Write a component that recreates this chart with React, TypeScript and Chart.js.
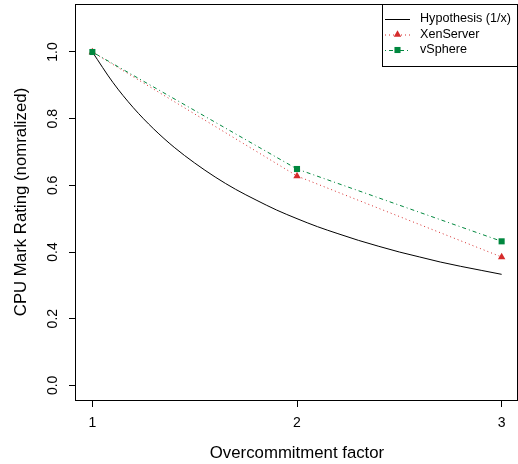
import React, { useEffect, useRef } from 'react';
import { Chart, registerables } from 'chart.js';

Chart.register(...registerables);

const FONT = '"Liberation Sans", Arial, Helvetica, sans-serif';

// ---- data ----
const factors = [1, 2, 3];
const xenServer = [1.0, 0.628, 0.385];
const vSphere = [1.0, 0.649, 0.432];
const hypothesisX = [1.0, 1.1, 1.2, 1.3, 1.4, 1.5, 1.6, 1.7, 1.8, 1.9, 2.0, 2.1, 2.2, 2.3, 2.4, 2.5, 2.6, 2.7, 2.8, 2.9, 3.0];
const hypothesisY = [1.0, 0.909, 0.833, 0.769, 0.714, 0.667, 0.625, 0.588, 0.556, 0.526, 0.5, 0.476, 0.455, 0.435, 0.417, 0.4, 0.385, 0.37, 0.357, 0.345, 0.333];
const seriesLabels = ['Hypothesis (1/x)', 'XenServer', 'vSphere'];
const xTitle = 'Overcommitment factor';
const yTitle = 'CPU Mark Rating (nomralized)';

const RED = '#D62B2B';
const GREEN = '#00873E';
const BLACK = '#000000';

const framePlugin = {
  id: 'rframe',
  afterDraw(chart: any) {
    const { ctx, chartArea: a } = chart;
    ctx.save();
    // plot box
    ctx.strokeStyle = BLACK;
    ctx.lineWidth = 1;
    ctx.strokeRect(a.left - 0.5, a.top + 0.5, a.right - a.left, a.bottom - a.top);

    // rotated y tick labels from the library's scale
    const ys = chart.scales.y;
    ctx.font = `14px ${FONT}`;
    ctx.fillStyle = BLACK;
    ctx.textAlign = 'center';
    ctx.textBaseline = 'middle';
    ys.ticks.forEach((t: any) => {
      const py = ys.getPixelForValue(t.value);
      ctx.save();
      ctx.translate(53, py);
      ctx.rotate(-Math.PI / 2);
      ctx.fillText(Number(t.value).toFixed(1), 0, 0);
      ctx.restore();
    });

    // legend
    const lx = 382.5, ly = 4.5, lw = 135, lh = 62;
    ctx.strokeRect(lx, ly, lw, lh);
    const rows = [19, 34.5, 50];
    const styles = [
      { color: BLACK, dash: [] as number[], marker: null as string | null },
      { color: RED, dash: [1, 3], marker: 'triangle' },
      { color: GREEN, dash: [1, 3, 4, 3], marker: 'rect' },
    ];
    styles.forEach((s, i) => {
      const y = rows[i];
      ctx.save();
      ctx.strokeStyle = s.color;
      ctx.setLineDash(s.dash);
      ctx.beginPath();
      ctx.moveTo(385, y + 0.5);
      ctx.lineTo(410, y + 0.5);
      ctx.stroke();
      ctx.restore();
      ctx.fillStyle = s.color;
      const cx = 397.5;
      const r = 4.3;
      if (s.marker === 'triangle') {
        const w = r * Math.sqrt(3) / 2;
        ctx.beginPath();
        ctx.moveTo(cx, y - r);
        ctx.lineTo(cx + w, y + r / 2);
        ctx.lineTo(cx - w, y + r / 2);
        ctx.closePath();
        ctx.fill();
      } else if (s.marker === 'rect') {
        const h = r * Math.SQRT1_2;
        ctx.fillRect(cx - h, y - h, 2 * h, 2 * h);
      }
      ctx.fillStyle = BLACK;
      ctx.font = `12.6px ${FONT}`;
      ctx.textAlign = 'left';
      ctx.textBaseline = 'middle';
      ctx.fillText(seriesLabels[i], 420, y);
    });
    ctx.restore();
  },
};

export default function App() {
  const ref = useRef<HTMLCanvasElement | null>(null);

  useEffect(() => {
    document.body.style.margin = '0';
    const canvas = ref.current;
    if (!canvas) return;
    const chart = new Chart(canvas, {
      type: 'line',
      data: {
        datasets: [
          {
            label: seriesLabels[0],
            data: hypothesisX.map((x, i) => ({ x, y: hypothesisY[i] })),
            borderColor: BLACK,
            borderWidth: 1,
            pointRadius: 0,
            cubicInterpolationMode: 'monotone',
            order: 3,
          },
          {
            label: seriesLabels[1],
            data: factors.map((x, i) => ({ x, y: xenServer[i] })),
            borderColor: RED,
            borderWidth: 1,
            borderDash: [1, 3],
            pointStyle: 'triangle',
            pointRadius: 4.3,
            pointBackgroundColor: RED,
            pointBorderWidth: 0,
            order: 2,
          },
          {
            label: seriesLabels[2],
            data: factors.map((x, i) => ({ x, y: vSphere[i] })),
            borderColor: GREEN,
            borderWidth: 1,
            borderDash: [1, 3, 4, 3],
            pointStyle: 'rect',
            pointRadius: 4.3,
            pointBackgroundColor: GREEN,
            pointBorderWidth: 0,
            order: 1,
          },
        ],
      },
      options: {
        responsive: false,
        animation: false,
        devicePixelRatio: 1,
        layout: { autoPadding: false, padding: { top: 4, right: 0, left: 0, bottom: 0 } },
        plugins: { legend: { display: false }, tooltip: { enabled: false } },
        scales: {
          x: {
            type: 'linear',
            min: 0.92,
            max: 3.08,
            ticks: {
              stepSize: 1,
              includeBounds: false,
              autoSkip: false,
              maxRotation: 0,
              padding: 7.6,
              color: BLACK,
              font: { family: FONT, size: 14 },
              callback: (v: any) => String(v),
            },
            grid: { drawOnChartArea: false, drawTicks: true, tickLength: 7, color: BLACK, lineWidth: 1 },
            border: { display: false },
            title: {
              display: true,
              text: xTitle,
              color: BLACK,
              font: { family: FONT, size: 16.8 },
              padding: { top: 0, bottom: 1 },
            },
            afterFit: (s: any) => { s.height = 64; s.paddingLeft = 0; s.paddingRight = 0; },
          },
          y: {
            type: 'linear',
            min: -0.044,
            max: 1.144,
            ticks: { stepSize: 0.2, includeBounds: false, display: false },
            grid: { drawOnChartArea: false, drawTicks: true, tickLength: 7, color: BLACK, lineWidth: 1 },
            border: { display: false },
            title: {
              display: true,
              text: yTitle,
              color: BLACK,
              font: { family: FONT, size: 16.8 },
              padding: { top: 11, bottom: 0 },
            },
            afterFit: (s: any) => { s.width = 76; s.paddingTop = 0; s.paddingBottom = 0; },
          },
        },
      } as any,
      plugins: [framePlugin],
    });
    return () => chart.destroy();
  }, []);

  return (
    <div style={{ width: 518, height: 464, background: '#fff' }}>
      <canvas ref={ref} width={518} height={464} />
    </div>
  );
}
